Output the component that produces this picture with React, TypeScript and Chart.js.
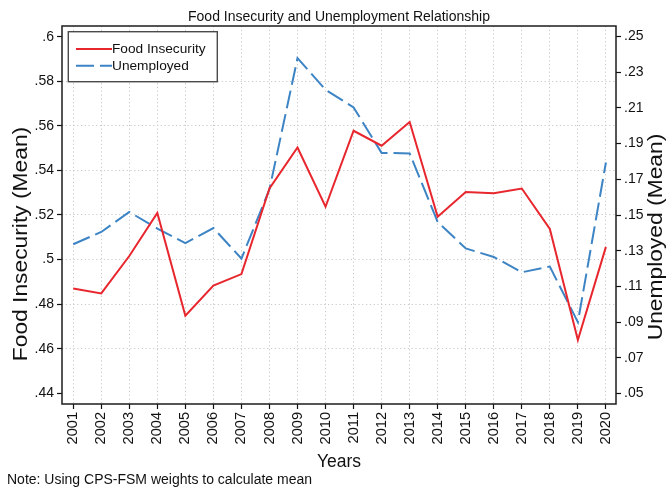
import React, { useEffect, useRef } from 'react';
import { Chart, registerables } from 'chart.js';

Chart.register(...registerables);

// Survey years and yearly means
const years = [2001, 2002, 2003, 2004, 2005, 2006, 2007, 2008, 2009, 2010, 2011, 2012, 2013, 2014, 2015, 2016, 2017, 2018, 2019, 2020];
const foodInsecurity = [0.487, 0.4848, 0.5016, 0.5209, 0.4748, 0.4883, 0.4935, 0.5319, 0.5503, 0.5237, 0.5578, 0.5511, 0.5617, 0.5192, 0.5303, 0.5298, 0.5319, 0.5137, 0.4639, 0.5057];
const unemployed = [0.1336, 0.1405, 0.1517, 0.1424, 0.1343, 0.1427, 0.1256, 0.1644, 0.2379, 0.2202, 0.2103, 0.1848, 0.1845, 0.1461, 0.1313, 0.1265, 0.1179, 0.1211, 0.09, 0.1794];

// Axis tick values
const leftTicks = [0.44, 0.46, 0.48, 0.5, 0.52, 0.54, 0.56, 0.58, 0.6];
const rightTicks = [0.05, 0.07, 0.09, 0.11, 0.13, 0.15, 0.17, 0.19, 0.21, 0.23, 0.25];

const seriesNames = ['Food Insecurity', 'Unemployed'];
const chartTitle = 'Food Insecurity and Unemployment Relationship';
const xTitle = 'Years';
const leftTitle = 'Food Insecurity (Mean)';
const rightTitle = 'Unemployed (Mean)';
const noteText = 'Note: Using CPS-FSM weights to calculate mean';

const RED = '#e8262d';
const BLUE = '#3d84c5';
const FONT = '"Liberation Sans", Arial, Helvetica, sans-serif';
const BLUE_DASH = [18, 6];

// ".58" style labels: no leading zero, no trailing zeros
const fmt = (v: number) =>
  v.toFixed(2).replace(/0+$/, '').replace(/\.$/, '').replace(/^0\./, '.');

const near = (a: number, b: number) => Math.abs(a - b) < 1e-6;

// vertical axis title, drawn bottom-to-top and slightly elongated
const drawVerticalTitle = (ctx: CanvasRenderingContext2D, text: string, x: number, y: number) => {
  ctx.save();
  ctx.translate(x, y);
  ctx.rotate(-Math.PI / 2);
  ctx.scale(1.14, 1);
  ctx.fillText(text, 0, 0);
  ctx.restore();
};

const decorations = {
  id: 'decorations',
  afterDatasetsDraw(chart: any) {
    const { ctx, chartArea: a } = chart;
    ctx.save();
    // plot region outline
    ctx.strokeStyle = '#1c1c1c';
    ctx.lineWidth = 1.5;
    ctx.setLineDash([]);
    ctx.strokeRect(a.left, a.top, a.right - a.left, a.bottom - a.top);

    // legend box in the upper-left corner of the plot
    const bx = a.left + 6.3;
    const by = a.top + 5.7;
    const bw = 149;
    const bh = 50;
    ctx.fillStyle = '#ffffff';
    ctx.fillRect(bx, by, bw, bh);
    ctx.strokeStyle = '#4a4a4a';
    ctx.lineWidth = 1.4;
    ctx.strokeRect(bx, by, bw, bh);

    const rows = [
      { name: seriesNames[0], color: RED, dash: [] as number[], y: by + 17.3 },
      { name: seriesNames[1], color: BLUE, dash: BLUE_DASH, y: by + 34 },
    ];
    ctx.font = `13.7px ${FONT}`;
    ctx.textBaseline = 'middle';
    ctx.textAlign = 'left';
    rows.forEach((r) => {
      ctx.strokeStyle = r.color;
      ctx.lineWidth = 2;
      ctx.setLineDash(r.dash);
      ctx.beginPath();
      ctx.moveTo(bx + 7.7, r.y);
      ctx.lineTo(bx + 43.7, r.y);
      ctx.stroke();
      ctx.setLineDash([]);
      ctx.fillStyle = '#111';
      ctx.fillText(r.name, bx + 43.7, r.y + 0.5);
    });
    ctx.restore();
  },
  afterDraw(chart: any) {
    const { ctx, chartArea: a } = chart;
    const cx = (a.left + a.right) / 2;
    ctx.save();
    ctx.fillStyle = '#111';
    ctx.textAlign = 'center';

    ctx.font = `14px ${FONT}`;
    ctx.textBaseline = 'middle';
    ctx.fillText(chartTitle, cx, 17);

    ctx.font = `17.5px ${FONT}`;
    ctx.textBaseline = 'alphabetic';
    ctx.fillText(xTitle, cx, 467);

    ctx.textAlign = 'left';
    ctx.font = `14px ${FONT}`;
    ctx.fillText(noteText, 7, 484);

    ctx.textAlign = 'center';
    ctx.textBaseline = 'middle';
    ctx.font = `20px ${FONT}`;
    drawVerticalTitle(ctx, leftTitle, 21, 244);
    drawVerticalTitle(ctx, rightTitle, 656.5, 237);

    ctx.restore();
  },
};

const tickFont = { family: FONT, size: 14 };
const xTickFont = { family: FONT, size: 14.6 };
const gridDash = [1.2, 2.6];
const gridColor = '#c9c9c9';

export default function App() {
  const canvasRef = useRef<HTMLCanvasElement | null>(null);

  useEffect(() => {
    const canvas = canvasRef.current;
    if (!canvas) return;
    const chart = new Chart(canvas, {
      type: 'line',
      data: {
        datasets: [
          {
            label: seriesNames[0],
            data: years.map((x, i) => ({ x, y: foodInsecurity[i] })),
            borderColor: RED,
            backgroundColor: RED,
            borderWidth: 2,
            pointRadius: 0,
            tension: 0,
            yAxisID: 'yLeft',
          },
          {
            label: seriesNames[1],
            data: years.map((x, i) => ({ x, y: unemployed[i] })),
            borderColor: BLUE,
            backgroundColor: BLUE,
            borderWidth: 2,
            borderDash: BLUE_DASH,
            pointRadius: 0,
            tension: 0,
            yAxisID: 'yRight',
          },
        ],
      },
      options: {
        animation: false,
        responsive: false,
        devicePixelRatio: 1,
        layout: { padding: { top: 26, left: 0, right: 0, bottom: 0 } },
        plugins: {
          legend: { display: false },
          title: { display: false },
          tooltip: { enabled: false },
        },
        scales: {
          x: {
            type: 'linear',
            position: 'bottom',
            min: 2000.6,
            max: 2020.36,
            afterBuildTicks: (s: any) => {
              s.ticks = years.map((v) => ({ value: v }));
            },
            afterFit: (s: any) => {
              s.height = 83;
            },
            ticks: {
              autoSkip: false,
              minRotation: 90,
              maxRotation: 90,
              padding: 3,
              color: '#111',
              font: xTickFont,
              callback: (v: any) => String(v),
            },
            grid: {
              color: gridColor,
              lineWidth: 1,
              drawTicks: true,
              tickLength: 5,
              tickColor: '#111',
              tickWidth: 1.2,
              tickBorderDash: [],
            },
            border: { display: false, dash: gridDash },
          },
          yLeft: {
            type: 'linear',
            position: 'left',
            min: 0.4352,
            max: 0.6048,
            afterBuildTicks: (s: any) => {
              s.ticks = leftTicks.map((v) => ({ value: v }));
            },
            afterFit: (s: any) => {
              s.width = 62;
            },
            ticks: {
              padding: 3,
              color: '#111',
              font: tickFont,
              callback: (v: any) => fmt(Number(v)),
            },
            grid: {
              color: (c: any) =>
                c.tick && (near(c.tick.value, 0.6) || near(c.tick.value, 0.44)) ? 'rgba(0,0,0,0)' : gridColor,
              lineWidth: 1,
              drawTicks: true,
              tickLength: 5,
              tickColor: '#111',
              tickWidth: 1.2,
              tickBorderDash: [],
            },
            border: { display: false, dash: gridDash },
          },
          yRight: {
            type: 'linear',
            position: 'right',
            min: 0.0441,
            max: 0.2559,
            afterBuildTicks: (s: any) => {
              s.ticks = rightTicks.map((v) => ({ value: v }));
            },
            afterFit: (s: any) => {
              s.width = 51;
            },
            ticks: {
              padding: 3,
              color: '#111',
              font: tickFont,
              callback: (v: any) => fmt(Number(v)),
            },
            grid: {
              drawOnChartArea: false,
              drawTicks: true,
              tickLength: 5,
              tickColor: '#111',
              tickWidth: 1.2,
              tickBorderDash: [],
            },
            border: { display: false },
          },
        },
      },
      plugins: [decorations],
    } as any);
    return () => chart.destroy();
  }, []);

  return (
    <div style={{ position: 'fixed', left: 0, top: 0, width: 667, height: 487, background: '#ffffff' }}>
      <canvas ref={canvasRef} width={667} height={487} style={{ display: 'block', width: 667, height: 487 }} />
    </div>
  );
}
